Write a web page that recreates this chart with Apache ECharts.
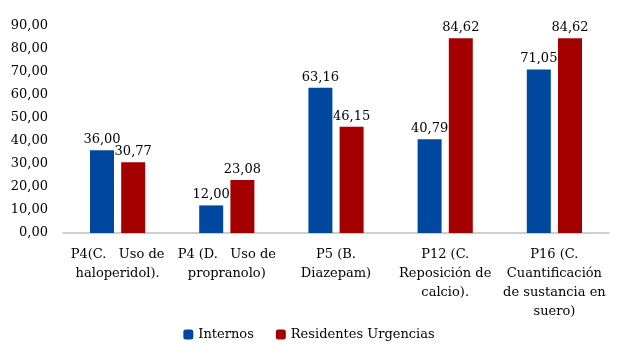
<!DOCTYPE html>
<html>
<head>
<meta charset="utf-8">
<script src="https://cdn.jsdelivr.net/npm/echarts@6/dist/echarts.min.js"></script>
<style>
  html, body { margin: 0; padding: 0; background: #fff; }
  #chart { width: 618px; height: 355px; }
</style>
</head>
<body>
<div id="chart"></div>
<script>
const categories = [
    'P4(C.   Uso de\nhaloperidol).',
    'P4 (D.   Uso de\npropranolo)',
    'P5 (B.\nDiazepam)',
    'P12 (C.\nReposición de\ncalcio).',
    'P16 (C.\nCuantificación\nde sustancia en\nsuero)'
];
const internos = [36.00, 12.00, 63.16, 40.79, 71.05];
const residentes = [30.77, 23.08, 46.15, 84.62, 84.62];

const FONT = '"DejaVu Serif", serif';
const SIZE = 13;
const fmt = v => Number(v).toFixed(2).replace('.', ',');

const chart = echarts.init(document.getElementById('chart'));

const label = {
    show: true,
    position: 'top',
    distance: 4,
    color: '#000',
    fontFamily: FONT,
    fontSize: SIZE,
    formatter: p => fmt(p.value)
};

chart.setOption({
    animation: false,
    textStyle: { fontFamily: FONT },
    grid: { left: 63, right: 9, top: 26, bottom: 122 },
    legend: {
        bottom: 9,
        itemWidth: 10,
        itemHeight: 10,
        itemGap: 22,
        textStyle: { fontFamily: FONT, fontSize: SIZE, color: '#000' },
        data: ['Internos', 'Residentes Urgencias']
    },
    xAxis: {
        type: 'category',
        data: categories,
        axisLine: { lineStyle: { color: '#bfbfbf', width: 1.5 } },
        axisTick: { show: false },
        axisLabel: {
            interval: 0,
            margin: 12,
            color: '#000',
            fontFamily: FONT,
            fontSize: SIZE,
            lineHeight: 19
        }
    },
    yAxis: {
        type: 'value',
        min: 0,
        max: 90,
        interval: 10,
        splitLine: { show: false },
        axisLine: { show: false },
        axisLabel: {
            margin: 15,
            color: '#000',
            fontFamily: FONT,
            fontSize: SIZE,
            formatter: v => fmt(v)
        }
    },
    series: [
        {
            name: 'Internos',
            type: 'bar',
            data: internos,
            barWidth: 24,
            barGap: '30%',
            itemStyle: { color: '#0047a0' },
            label: label
        },
        {
            name: 'Residentes Urgencias',
            type: 'bar',
            data: residentes,
            barWidth: 24,
            barGap: '30%',
            itemStyle: { color: '#a50000' },
            label: label
        }
    ]
});
</script>
</body>
</html>
